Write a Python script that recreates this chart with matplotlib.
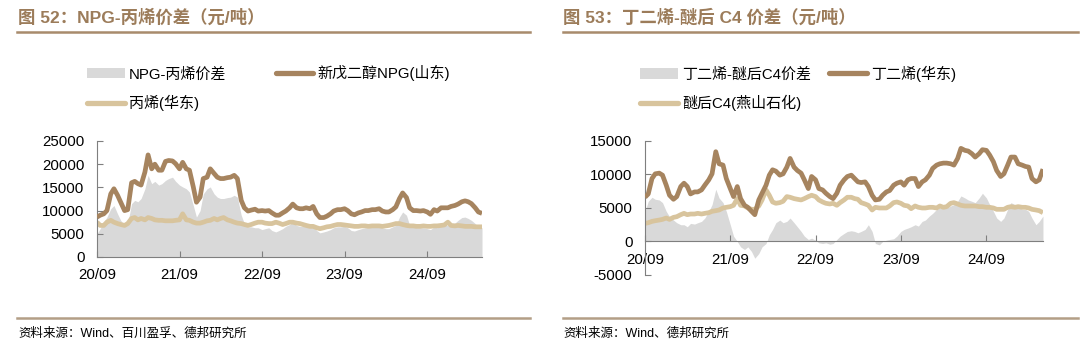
import matplotlib
matplotlib.use("Agg")
import matplotlib.pyplot as plt
import matplotlib.dates as mdates
from matplotlib.lines import Line2D
from matplotlib.patches import Patch
import pandas as pd

plt.rcParams['font.family'] = ['Liberation Sans', 'Noto Sans CJK SC']
plt.rcParams['axes.unicode_minus'] = False

# semi-monthly readings, 2020-09 .. 2025-05
dates = pd.date_range('2020-09-01', periods=113, freq='SMS')

npg_price = [
    8600, 9000, 9300, 10000, 13600, 14700, 13300, 11800, 10000, 10200,
    16000, 16300, 15800, 15500, 18300, 22000, 19000, 20000, 18700, 18700,
    20600, 20800, 20700, 20100, 19000, 20400, 19000, 18700, 15100, 11800,
    12900, 16900, 17200, 19000, 18000, 17200, 16900, 16900, 17100, 17200,
    17600, 16900, 12200, 10600, 9900, 10100, 10300, 9900, 10000, 9900,
    10000, 9500, 9000, 9000, 9500, 9900, 10600, 11400, 10600, 10400,
    10400, 10600, 10400, 10900, 9300, 8500, 8500, 8800, 9300, 9900,
    10200, 10200, 10400, 10000, 9300, 9100, 9500, 9700, 10000, 10000,
    10200, 10200, 10400, 9900, 9700, 9700, 10200, 10800, 12600, 13800,
    12800, 10600, 10000, 10000, 9900, 10000, 9700, 9200, 10200, 9900,
    10600, 10600, 10600, 10900, 11100, 11400, 11900, 12100, 11900, 11500,
    10600, 9700, 9400,
]
propylene_price = [
    7500, 6800, 6800, 7500, 7900, 7500, 7200, 7000, 6800, 7200,
    8300, 8500, 8000, 8300, 8000, 8500, 8300, 8000, 7900, 7900,
    7800, 7800, 7800, 7900, 8000, 9300, 8000, 7900, 7500, 7300,
    7300, 7500, 7800, 7900, 8300, 8000, 8300, 8500, 8000, 7800,
    7500, 7300, 7200, 7000, 6800, 7000, 7300, 7500, 7500, 7300,
    7200, 7200, 7500, 7300, 7000, 7200, 7500, 7500, 7300, 7200,
    7000, 6800, 6600, 6600, 6300, 6100, 6300, 6500, 6600, 6800,
    7000, 7000, 6900, 6800, 6700, 6600, 6600, 6700, 6700, 6600,
    6700, 6700, 6700, 6600, 6700, 6800, 7000, 7200, 7200, 7000,
    6800, 6700, 6700, 6600, 6600, 6700, 6600, 6600, 6700, 6700,
    6800, 6900, 7500, 6800, 6700, 6800, 6700, 6600, 6600, 6600,
    6500, 6500, 6500,
]
npg_spread = [
    5000, 6100, 7500, 8600, 10400, 11100, 9300, 7900, 6800, 7200,
    11500, 12200, 11900, 12600, 14700, 17600, 15800, 16300, 15500, 15800,
    16500, 16900, 17200, 16300, 15500, 15100, 14700, 14000, 11100, 8600,
    10000, 13600, 14700, 15100, 13600, 12900, 12600, 12600, 12800, 12900,
    13300, 12900, 9000, 7200, 6500, 6500, 6300, 6300, 5900, 6100,
    6300, 5700, 5400, 5700, 6100, 6600, 7000, 7500, 6800, 6600,
    6600, 6600, 6500, 6600, 5700, 5200, 5400, 5600, 5900, 6300,
    6500, 6500, 6600, 6300, 5700, 5600, 5900, 6100, 6300, 6300,
    6500, 6500, 6600, 6300, 6100, 6100, 6500, 6800, 8600, 9700,
    9000, 6800, 6500, 6300, 6300, 6300, 6100, 5900, 6500, 6300,
    6800, 6800, 6800, 7200, 7300, 7900, 8500, 8600, 8300, 7900,
    7200, 6500, 6300,
]

butadiene_price = [
    6600, 7100, 9400, 10100, 10200, 9900, 8400, 6900, 6300, 6700,
    8200, 8700, 8200, 7100, 7400, 7400, 7700, 8400, 9200, 10100,
    13400, 11600, 11400, 9400, 7900, 6700, 8200, 6400, 5400, 5100,
    4500, 4000, 6200, 7200, 8400, 9900, 10700, 10500, 9900, 10100,
    11100, 12400, 11100, 10600, 10200, 9200, 7900, 9700, 9200, 7900,
    7700, 7200, 6700, 6400, 7200, 8400, 9200, 9700, 9900, 9400,
    8900, 8800, 8900, 8200, 6900, 6200, 6300, 6900, 7400, 7600,
    8400, 8700, 8900, 8400, 9200, 9400, 9400, 8200, 8900, 9200,
    9900, 10900, 11400, 11600, 11700, 11700, 11600, 11400, 12400, 13900,
    13600, 13500, 13100, 12600, 13100, 13700, 13600, 12900, 11900, 10600,
    9700, 10100, 11400, 12600, 12600, 11600, 11400, 11200, 11100, 9400,
    8900, 9200, 10800,
]
c4_price = [
    2700, 2800, 3000, 3100, 3200, 3300, 3500, 3300, 3600, 3700,
    4000, 4200, 4000, 4100, 4100, 4200, 4100, 4200, 4300, 4500,
    4600, 4700, 5000, 5100, 5200, 5400, 6400, 5400, 5300, 5000,
    4800, 4800, 5300, 6200, 7700, 6900, 5900, 5700, 5800, 6000,
    6700, 6600, 6400, 6300, 6200, 6400, 6700, 6900, 6700, 6200,
    5900, 5700, 5600, 5700, 5400, 5800, 6200, 6600, 6600, 6400,
    6300, 5800, 5600, 5400, 4700, 5100, 5000, 5000, 5000, 5300,
    5800, 5900, 5700, 5400, 5300, 4900, 5300, 5100, 5000, 5000,
    5100, 5100, 5000, 5300, 5100, 5200, 5700, 5800, 5600, 5400,
    5300, 5300, 5300, 5300, 5200, 5200, 5100, 5100, 5000, 4800,
    4800, 4800, 5100, 5200, 5100, 5200, 5100, 5100, 5000, 4800,
    4700, 4600, 4300,
]
c4_spread = [
    4500, 6000, 6600, 6300, 6200, 5800, 4500, 3700, 3200, 2800,
    2500, 2500, 2200, 2700, 2600, 2800, 3000, 3500, 4500, 5500,
    7800, 6500, 5800, 4500, 2500, 800, 0, -800, -1200, -800,
    -1500, -2500, -1800, -800, -300, 1000, 1800, 2800, 3200, 2800,
    3000, 3500, 2800, 2200, 1500, 800, 300, 500, 200, -200,
    -300, -200, -400, -300, 300, 800, 1200, 1500, 1600, 1500,
    1300, 1500, 1800, 2500, 1500, -300, -500, 0, 200, 300,
    400, 800, 1500, 1800, 2000, 2200, 2500, 2300, 3000, 3200,
    3800, 4200, 4800, 5000, 5200, 5000, 5300, 5500, 6000, 6800,
    6500, 6200, 6000, 5800, 6500, 7200, 6500, 5500, 4500, 3500,
    3000, 3500, 4800, 5800, 5500, 5200, 4800, 4800, 4500, 3500,
    2500, 3000, 3800,
]

year_ticks = pd.to_datetime(['2020-09-01', '2021-09-01', '2022-09-01',
                             '2023-09-01', '2024-09-01'])

BROWN = '#A6845F'
TAN = '#D8C49D'
GREY = '#D9D9D9'
TITLE_C = '#9C7C5A'
RULE_C = '#A88B6C'

fig = plt.figure(figsize=(10.8, 3.53), dpi=100)


def style_axis(ax, ylim, yticks):
    ax.set_xlim(dates[0], dates[-1])
    ax.set_ylim(*ylim)
    ax.set_yticks(yticks)
    ax.set_xticks(year_ticks)
    ax.xaxis.set_major_formatter(mdates.DateFormatter('%y/%m'))
    for s in ('top', 'right'):
        ax.spines[s].set_visible(False)
    for s in ('left', 'bottom'):
        ax.spines[s].set_color('#7F7F7F')
        ax.spines[s].set_linewidth(0.8)
    ax.tick_params(axis='both', direction='in', length=4, color='#7F7F7F',
                   labelsize=10.8, labelcolor='black', width=0.8)
    ax.tick_params(axis='y', pad=9)
    ax.tick_params(axis='x', pad=8)


def panel(ax, spread, main, sub, labels, top_x, colspace):
    ax.fill_between(dates, 0, spread, color=GREY, linewidth=0, zorder=1)
    ax.plot(dates, sub, color=TAN, lw=3.4, zorder=2, solid_capstyle='butt')
    ax.plot(dates, main, color=BROWN, lw=3.4, zorder=3, solid_capstyle='butt')
    handles = [Patch(facecolor=GREY, edgecolor='none'),
               Line2D([], [], color=TAN, lw=3.8, solid_capstyle='round'),
               Line2D([], [], color=BROWN, lw=3.8, solid_capstyle='round')]
    fig.legend(handles, [labels[0], labels[2], labels[1]], ncol=2,
               loc='upper left', bbox_to_anchor=(top_x, 0.815),
               frameon=False, fontsize=10.8, handlelength=2.5,
               handleheight=0.7, handletextpad=0.3, labelspacing=0.9,
               columnspacing=colspace, borderpad=0, borderaxespad=0)


ax1 = fig.add_axes([0.0898, 0.2720, 0.3565, 0.3286])
panel(ax1, npg_spread, npg_price, propylene_price,
      ['NPG-丙烯价差', '新戊二醇NPG(山东)', '丙烯(华东)'], 87 / 1080, 3.3)
style_axis(ax1, (0, 25000), range(0, 25001, 5000))

ax2 = fig.add_axes([0.5972, 0.2210, 0.3685, 0.3796])
panel(ax2, c4_spread, butadiene_price, c4_price,
      ['丁二烯-醚后C4价差', '丁二烯(华东)', '醚后C4(燕山石化)'], 640 / 1080, 1.2)
style_axis(ax2, (-5000, 15000), range(-5000, 15001, 5000))
ax2.spines['bottom'].set_position(('data', 0))

# headers, rules and source notes
fig.text(18 / 1080, 0.953, '图 52：NPG-丙烯价差（元/吨）', fontsize=12.5,
         fontweight='bold', color=TITLE_C, va='center', ha='left')
fig.text(563 / 1080, 0.953, '图 53：丁二烯-醚后 C4 价差（元/吨）', fontsize=12.5,
         fontweight='bold', color=TITLE_C, va='center', ha='left')
for x0, x1 in ((17 / 1080, 530 / 1080), (563 / 1080, 1078 / 1080)):
    fig.add_artist(Line2D([x0, x1], [0.909, 0.909], color=RULE_C, lw=1.8))
    fig.add_artist(Line2D([x0, x1], [0.099, 0.099], color='#B39E86', lw=1.8))
fig.text(18 / 1080, 0.054, '资料来源：Wind、百川盈孚、德邦研究所', fontsize=9,
         color='black', va='center', ha='left')
fig.text(563 / 1080, 0.054, '资料来源：Wind、德邦研究所', fontsize=9,
         color='black', va='center', ha='left')

fig.savefig('out.png', dpi=100)
